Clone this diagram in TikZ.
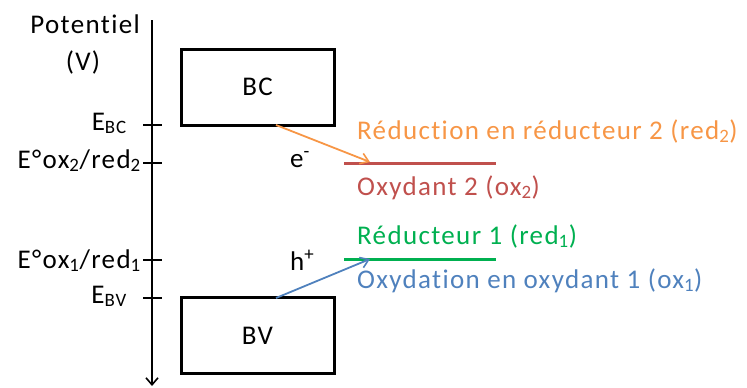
\documentclass[tikz,border=0pt]{standalone}
\usepackage{fontspec}
\setmainfont[Ligatures=NoCommon, LetterSpace=5]{Carlito}
\usepackage{xcolor}
\usepackage{tikz}
\usetikzlibrary{arrows.meta, positioning}

\definecolor{redOx}{HTML}{C0504D}
\definecolor{greenRed}{HTML}{00B050}
\definecolor{orangeRed}{HTML}{F79646}
\definecolor{blueOx}{HTML}{4F81BD}

\begin{document}
\begin{tikzpicture}[x=1pt, y=-1pt,
    font=\fontsize{27}{32}\selectfont,
    axis/.style={line width=2.2pt, -{Straight Barb[length=7pt, width=12pt, line width=1.6pt]}},
    tick/.style={line width=1.3pt},
    band/.style={draw, line width=3pt, minimum width=153pt, minimum height=76pt, inner sep=0pt},
    level/.style={line width=3pt},
    transfer/.style={line width=1.8pt, -{Straight Barb[length=8pt, width=11pt, line width=1.6pt]}},
    lab/.style={anchor=base east, inner sep=0pt},
    txt/.style={anchor=base west, inner sep=0pt}]
  \useasboundingbox (0,0) rectangle (747,388);

  % potential axis
  \coordinate (top) at (152,20);
  \coordinate (bot) at (152,386);
  \draw[axis] (top) -- (bot);
  \node[anchor=base east, inner sep=0pt] (pot) at (140,33) {Potentiel};
  \node[anchor=base] (unit) at (83,70) {(V)};

  \foreach \y/\n in {125/bc,163/oxB,260/oxA,298/bv}{
    \draw[tick] (143,\y) -- (162,\y);
  }
  \node[lab] (lbc)  at (127,130) {E\textsubscript{BC}};
  \node[lab] (loxB) at (141,168) {E°ox\textsubscript{2}/red\textsubscript{2}};
  \node[lab] (loxA) at (141,268) {E°ox\textsubscript{1}/red\textsubscript{1}};
  \node[lab] (lbv)  at (127,303) {E\textsubscript{BV}};

  % bands
  \node[band] (bc) at (257.5,87)  {BC};
  \node[band] (bv) at (257.5,335.5) {BV};

  % redox levels
  \coordinate (redL) at (344,163);
  \coordinate (redR) at (496,163);
  \coordinate (greenL) at (344,259);
  \coordinate (greenR) at (496,259);
  \draw[level, redOx]    (redL) -- (redR);
  \draw[level, greenRed] (greenL) -- (greenR);

  % charge transfers
  \coordinate (eStart) at (276,125);
  \coordinate (eEnd)   at (370,162);
  \coordinate (hStart) at (276,298);
  \coordinate (hEnd)   at (370,259);
  \draw[transfer, orangeRed] (eStart) -- (eEnd);
  \draw[transfer, blueOx]    (hStart) -- (hEnd);
  \node[txt] (elec) at (290,167) {e\textsuperscript{-}};
  \node[txt] (hole) at (290,270) {h\textsuperscript{+}};

  \node[txt, text=orangeRed] (tRed2) at (357,139) {Réduction en réducteur 2 (red\textsubscript{2})};
  \node[txt, text=redOx]     (tOx2)  at (357,195) {Oxydant 2 (ox\textsubscript{2})};
  \node[txt, text=greenRed]  (tRed1) at (357,244) {Réducteur 1 (red\textsubscript{1})};
  \node[txt, text=blueOx]    (tOx1)  at (357,288) {Oxydation en oxydant 1 (ox\textsubscript{1})};
\end{tikzpicture}
\end{document}
